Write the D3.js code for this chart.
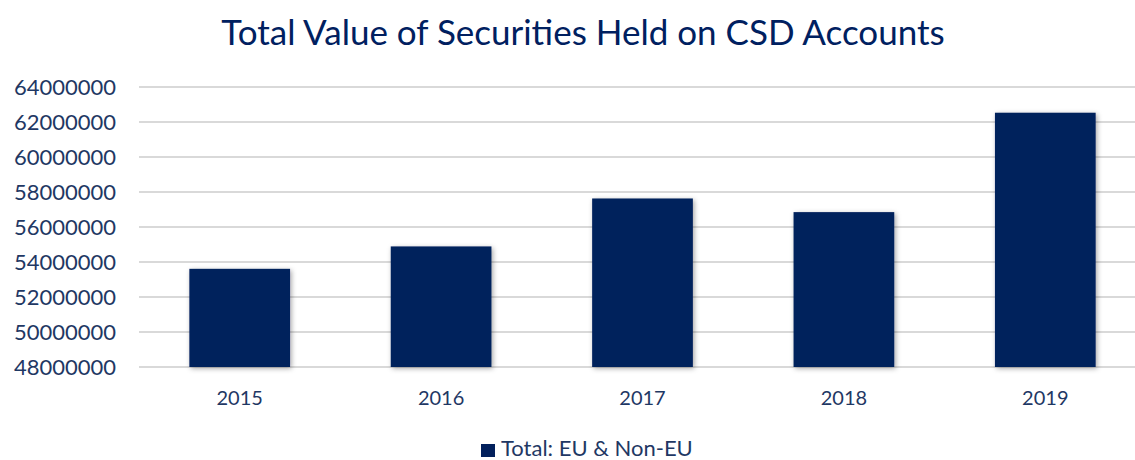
<!DOCTYPE html>
<html>
<head>
<meta charset="utf-8">
<script src="https://cdn.jsdelivr.net/npm/d3@7"></script>
<style>
  body { margin: 0; background: #fff; }
  svg text { font-family: Lato, "Open Sans", sans-serif; }
</style>
</head>
<body>
<svg id="chart" width="1135" height="460"></svg>
<script>
// data
var years = ["2015", "2016", "2017", "2018", "2019"];
var totals = [53610000, 54890000, 57630000, 56850000, 62530000];
var yTicks = [48000000, 50000000, 52000000, 54000000, 56000000, 58000000, 60000000, 62000000, 64000000];
var seriesName = "Total: EU & Non-EU";
var title = "Total Value of Securities Held on CSD Accounts";

var navy = "#02205c";
var textCol = "#1f3864";

var svg = d3.select("#chart");

var defs = svg.append("defs");
var f = defs.append("filter").attr("id", "shadow")
  .attr("x", "-10%").attr("y", "-10%").attr("width", "130%").attr("height", "130%");
f.append("feDropShadow")
  .attr("dx", 1.5).attr("dy", 1.5).attr("stdDeviation", 2.5)
  .attr("flood-color", "#000").attr("flood-opacity", 0.35);

var x = d3.scaleBand().domain(years).range([139, 1146]).paddingInner(0.5).paddingOuter(0.25);
var y = d3.scaleLinear().domain([48000000, 64000000]).range([367, 87]);

// title
svg.append("text")
  .attr("x", 583).attr("y", 45)
  .attr("text-anchor", "middle")
  .style("font-size", "35px")
  .style("fill", "#002060")
  .text(title);

// gridlines
svg.append("g").selectAll("line")
  .data(yTicks)
  .enter().append("line")
  .attr("x1", 139).attr("x2", 1135)
  .attr("y1", function(d) { return y(d); })
  .attr("y2", function(d) { return y(d); })
  .style("stroke", "#d9d9d9")
  .style("stroke-width", 2);

// y axis labels
var yAxis = d3.axisLeft(y).tickValues(yTicks).tickFormat(d3.format("d")).tickSize(0).tickPadding(0);
var gy = svg.append("g").attr("transform", "translate(116,0)").call(yAxis);
gy.select(".domain").remove();
gy.selectAll("text")
  .style("font-size", "22px")
  .style("fill", textCol)
  .style("font-family", "Lato, sans-serif");

// bars
svg.append("g").selectAll("rect")
  .data(totals)
  .enter().append("rect")
  .attr("x", function(d, i) { return x(years[i]); })
  .attr("width", x.bandwidth())
  .attr("y", function(d) { return y(d); })
  .attr("height", function(d) { return y(48000000) - y(d); })
  .style("fill", navy)
  .attr("filter", "url(#shadow)");

// x axis labels
var xAxis = d3.axisBottom(x).tickSize(0).tickPadding(0);
var gx = svg.append("g").attr("transform", "translate(0,391)").call(xAxis);
gx.select(".domain").remove();
gx.selectAll("text")
  .attr("dy", "0.71em")
  .attr("y", 0)
  .style("font-size", "20px")
  .style("fill", textCol)
  .style("font-family", "Lato, sans-serif");

// legend
var leg = svg.append("g");
leg.append("rect")
  .attr("x", 481).attr("y", 444)
  .attr("width", 14).attr("height", 13)
  .style("fill", navy);
leg.append("text")
  .attr("x", 501).attr("y", 456)
  .style("font-size", "22px")
  .style("fill", textCol)
  .text(seriesName);
</script>
</body>
</html>
